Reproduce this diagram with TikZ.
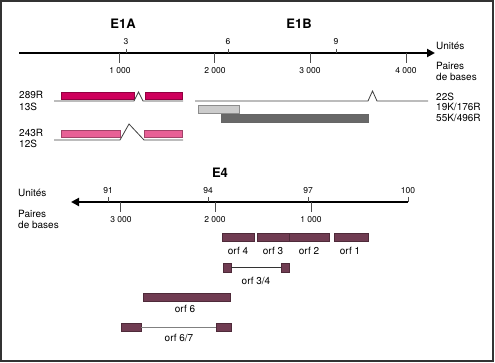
\documentclass[tikz,border=0pt]{standalone}
\usepackage{fontspec}
\setmainfont{TeX Gyre Heros}
\usetikzlibrary{arrows.meta}
\definecolor{exonA}{RGB}{206,0,92}
\definecolor{exonB}{RGB}{232,96,150}
\definecolor{orfcol}{RGB}{112,60,82}
\definecolor{lightbar}{RGB}{204,204,204}
\definecolor{darkbar}{RGB}{104,104,104}

\begin{document}
\begin{tikzpicture}[x=1pt,y=-1pt,
    axis/.style={line width=2pt},
    tick/.style={line width=0.8pt, black!70},
    base/.style={line width=0.8pt, black!75},
    lbl/.style={font=\fontsize{10}{11}\selectfont, inner sep=0pt},
    num/.style={font=\fontsize{8.5}{9}\selectfont, inner sep=0pt},
    title/.style={font=\fontsize{13}{14}\selectfont\bfseries, inner sep=0pt},
    orfbox/.style={fill=orfcol, draw=orfcol!70!black, line width=0.5pt,
      inner sep=0pt, outer sep=0pt, minimum height=8pt}]
\useasboundingbox (0,0) rectangle (495,363);
\draw[line width=1.5pt, black!80] (1,1) rectangle (493,361);

% E1A / E1B
\node[title] (e1a) at (123,24) {E1A};
\node[title] (e1b) at (299,24) {E1B};

\draw[axis, -{Triangle[length=8pt,width=8pt]}] (19,53) -- (435,53);
\draw[tick] (126,49) -- (126,53);
\draw[tick] (228,49) -- (228,53);
\draw[tick] (336,49) -- (336,53);
\node[num] (u3) at (126,42) {3};
\node[num] (u6) at (228,42) {6};
\node[num] (u9) at (336,42) {9};
\draw[tick] (119,53) -- (119,63);
\draw[tick] (214,53) -- (214,63);
\draw[tick] (310,53) -- (310,63);
\draw[tick] (406,53) -- (406,63);
\node[num] (b1) at (120,71) {1 000};
\node[num] (b2) at (215,71) {2 000};
\node[num] (b3) at (310,71) {3 000};
\node[num] (b4) at (406,71) {4 000};
\node[lbl, anchor=west] (unites) at (436,46) {Unités};
\node[lbl, anchor=west] (paires) at (436,66) {Paires};
\node[lbl, anchor=west] (bases) at (436,77) {de bases};

% 289R / 13S
\node[lbl, anchor=west] (r289) at (19,95) {289R};
\node[lbl, anchor=west] (s13) at (19,107) {13S};
\fill[exonA, draw=exonA!70!black, line width=0.5pt] (61,92) rectangle (134,99);
\fill[exonA, draw=exonA!70!black, line width=0.5pt] (145,92) rectangle (182,99);
\draw[base] (54,101) -- (134,101) -- (138.5,92) -- (143,101) -- (183,101);

% 243R / 12S
\node[lbl, anchor=west] (r243) at (19,133) {243R};
\node[lbl, anchor=west] (s12) at (19,144) {12S};
\fill[exonB, draw=exonB!70!black, line width=0.5pt] (61,130) rectangle (120,137);
\fill[exonB, draw=exonB!70!black, line width=0.5pt] (144,130) rectangle (182,137);
\draw[base] (54,140) -- (120,140) -- (129,124) -- (144,140) -- (183,140);

% 22S
\draw[base] (195,101) -- (368,101) -- (372.5,91) -- (377,101) -- (428,101);
\fill[lightbar, draw=black!45, line width=0.5pt] (198,105) rectangle (239,113);
\fill[darkbar, draw=black!60, line width=0.5pt] (221,114) rectangle (368,122);
\node[lbl, anchor=west] (s22) at (436,97) {22S};
\node[lbl, anchor=west] (k19) at (436,107) {19K/176R};
\node[lbl, anchor=west] (k55) at (436,118) {55K/496R};

% E4
\node[title] (e4) at (220,173) {E4};
\node[lbl, anchor=west] (unites4) at (18,193) {Unités};
\node[lbl, anchor=west] (paires4) at (18,214) {Paires};
\node[lbl, anchor=west] (bases4) at (18,225) {de bases};

\draw[axis, {Triangle[length=8pt,width=8pt]}-] (71,202) -- (408,202);
\draw[tick] (108,197) -- (108,202);
\draw[tick] (208,197) -- (208,202);
\draw[tick] (308,197) -- (308,202);
\draw[tick] (408,197) -- (408,202);
\node[num] (u91) at (108,191) {91};
\node[num] (u94) at (208,191) {94};
\node[num] (u97) at (308,191) {97};
\node[num] (u100) at (408,191) {100};
\draw[tick] (120,202) -- (120,212);
\draw[tick] (215,202) -- (215,212);
\draw[tick] (311,202) -- (311,212);
\node[num] (c3) at (121,220) {3 000};
\node[num] (c2) at (215,220) {2 000};
\node[num] (c1) at (311,220) {1 000};

% orfs
\node[orfbox, minimum width=32pt] (orf4) at (238,237) {};
\node[orfbox, minimum width=32pt] (orf3) at (273,237) {};
\node[orfbox, minimum width=40pt] (orf2) at (309,237) {};
\node[orfbox, minimum width=34pt] (orf1) at (351,237) {};
\node[lbl] (l4) at (238,251) {orf 4};
\node[lbl] (l3) at (273,251) {orf 3};
\node[lbl] (l2) at (309,251) {orf 2};
\node[lbl] (l1) at (350,251) {orf 1};

\node[orfbox, minimum width=8pt, minimum height=9pt] (o34a) at (227,267.5) {};
\node[orfbox, minimum width=8pt, minimum height=9pt] (o34b) at (285,267.5) {};
\draw[line width=0.8pt, black!80] (o34a) -- (o34b);
\node[lbl] (l34) at (256,281) {orf 3/4};

\node[orfbox, minimum width=87pt] (orf6) at (186.5,297) {};
\node[lbl] (l6) at (185,309) {orf 6};

\node[orfbox, minimum width=20pt] (o67a) at (131,327) {};
\node[orfbox, minimum width=15pt] (o67b) at (223.5,327) {};
\draw[line width=0.8pt, black!50] (o67a) -- (o67b);
\node[lbl] (l67) at (179,338) {orf 6/7};

\end{tikzpicture}
\end{document}
